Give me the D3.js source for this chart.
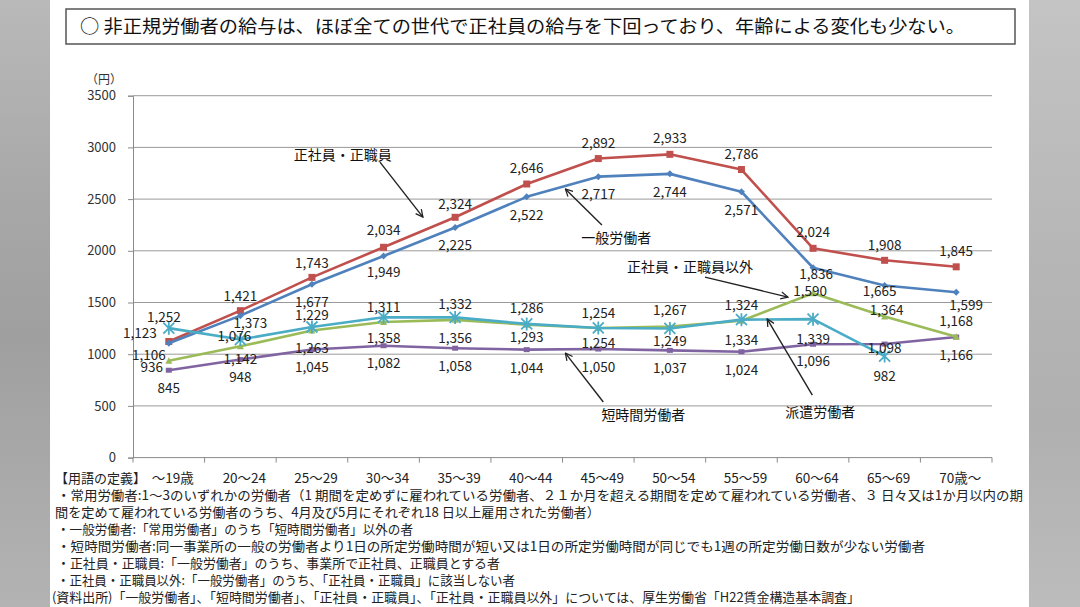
<!DOCTYPE html>
<html><head><meta charset="utf-8">
<script src="https://cdn.jsdelivr.net/npm/d3@7"></script>
<style>
html,body{margin:0;padding:0;background:#fff;}
svg{display:block;font-family:"Noto Sans CJK JP","Noto Sans",sans-serif;}
</style></head>
<body>
<svg id="chart" width="1080" height="607"></svg>
<script>
// ---------- data ----------
const categories = ["～19歳","20～24","25～29","30～34","35～39","40～44","45～49","50～54","55～59","60～64","65～69","70歳～"];
const yTicks = [0,500,1000,1500,2000,2500,3000,3500];
const seishain     = [1123,1421,1743,2034,2324,2646,2892,2933,2786,2024,1908,1845]; // 正社員・正職員
const ippan        = [1106,1373,1677,1949,2225,2522,2717,2744,2571,1836,1665,1599]; // 一般労働者
const seishainIgai = [936,1076,1229,1311,1332,1286,1254,1267,1324,1590,1364,1168];  // 正社員・正職員以外
const haken        = [1252,1142,1263,1358,1356,1293,1254,1249,1334,1339,982,null];  // 派遣労働者
const tanjikan     = [845,948,1045,1082,1058,1044,1050,1037,1024,1096,1098,1166];   // 短時間労働者

const titleText = "○  非正規労働者の給与は、ほぼ全ての世代で正社員の給与を下回っており、年齢による変化も少ない。";
const notes = [
  "・常用労働者:1～3のいずれかの労働者（1 期間を定めずに雇われている労働者、２１か月を超える期間を定めて雇われている労働者、３ 日々又は1か月以内の期",
  "間を定めて雇われている労働者のうち、4月及び5月にそれぞれ18 日以上雇用された労働者）",
  "・一般労働者:「常用労働者」のうち「短時間労働者」以外の者",
  "・短時間労働者:同一事業所の一般の労働者より1日の所定労働時間が短い又は1日の所定労働時間が同じでも1週の所定労働日数が少ない労働者",
  "・正社員・正職員:「一般労働者」のうち、事業所で正社員、正職員とする者",
  "・正社員・正職員以外:「一般労働者」のうち、「正社員・正職員」に該当しない者",
  "(資料出所)「一般労働者」、「短時間労働者」、「正社員・正職員」、「正社員・正職員以外」については、厚生労働省「H22賃金構造基本調査」"
];

// ---------- layout / style ----------
const W = 1080, H = 607;
const plot = {left:133, right:992, top:95.7, bottom:457.6};
const svg = d3.select("#chart");

// blurred-looking side panels
const defs = svg.append("defs");
const gl = defs.append("linearGradient").attr("id","gl").attr("x1",0).attr("y1",0).attr("x2",0).attr("y2",1);
[["0%","#b9b9b9"],["30%","#a9a9a9"],["55%","#9f9f9f"],["80%","#aaaaaa"],["100%","#b3b3b3"]].forEach(s=>gl.append("stop").attr("offset",s[0]).attr("stop-color",s[1]));
const gr = defs.append("linearGradient").attr("id","gr").attr("x1",0).attr("y1",0).attr("x2",0).attr("y2",1);
[["0%","#c4c4c4"],["45%","#b5b5b5"],["70%","#b0b0b0"],["100%","#bcbcbc"]].forEach(s=>gr.append("stop").attr("offset",s[0]).attr("stop-color",s[1]));
svg.append("rect").attr("x",0).attr("y",0).attr("width",50).attr("height",H).attr("fill","url(#gl)");
svg.append("rect").attr("x",1029).attr("y",0).attr("width",51).attr("height",H).attr("fill","url(#gr)");

// arrow marker
defs.append("marker").attr("id","arr").attr("viewBox","0 0 10 10").attr("refX",9).attr("refY",5)
  .attr("markerWidth",9).attr("markerHeight",9).attr("orient","auto").attr("markerUnits","userSpaceOnUse")
  .append("path").attr("d","M1,1 L9,5 L1,9").attr("fill","none").attr("stroke","#222").attr("stroke-width",1.4);

// title box
svg.append("rect").attr("x",66).attr("y",9).attr("width",949).attr("height",35)
  .attr("fill","#fff").attr("stroke","#555").attr("stroke-width",1.5);
svg.append("text").attr("x",80).attr("y",33).attr("font-size",18).attr("fill","#111")
  .attr("textLength",885).attr("lengthAdjust","spacingAndGlyphs").text(titleText);

// scales
const x = d3.scaleBand().domain(categories).range([plot.left, plot.right]);
const y = d3.scaleLinear().domain([0,3500]).range([plot.bottom, plot.top]);
const cx = i => x(categories[i]) + x.bandwidth()/2;
const fx = f => x(categories[0]) + x.bandwidth()*(f+0.5);

// gridlines
svg.append("g").selectAll("line").data(yTicks.filter(d=>d>0)).join("line")
  .attr("x1",plot.left).attr("x2",plot.right).attr("y1",d=>y(d)).attr("y2",d=>y(d))
  .attr("stroke","#9a9a9a").attr("stroke-width",1);

// y axis
const yAxis = svg.append("g").attr("transform",`translate(${plot.left},0)`)
  .call(d3.axisLeft(y).tickValues(yTicks).tickSize(5).tickPadding(12).tickFormat(d3.format("d")));
yAxis.select(".domain").attr("stroke","#8a8a8a");
yAxis.selectAll(".tick line").attr("stroke","#8a8a8a");
yAxis.selectAll("text").attr("font-size",13).attr("fill","#333").attr("font-family","'Noto Sans CJK JP',sans-serif");
svg.append("text").attr("x",104).attr("y",84).attr("text-anchor","middle").attr("font-size",12).attr("fill","#333").text("（円）");

// x axis (ticks at band boundaries)
svg.append("line").attr("x1",plot.left).attr("x2",plot.right).attr("y1",plot.bottom).attr("y2",plot.bottom).attr("stroke","#8a8a8a");
svg.append("g").selectAll("line").data(d3.range(categories.length+1)).join("line")
  .attr("x1",i=>plot.left + i*x.bandwidth()).attr("x2",i=>plot.left + i*x.bandwidth())
  .attr("y1",plot.bottom).attr("y2",plot.bottom+5).attr("stroke","#8a8a8a");
svg.append("g").selectAll("text").data(categories).join("text")
  .attr("x",(d,i)=>cx(i)+4).attr("y",plot.bottom+25).attr("text-anchor","middle")
  .attr("font-size",13.5).attr("fill","#222").text(d=>d);
svg.append("text").attr("x",55).attr("y",plot.bottom+25).attr("font-size",13).attr("fill","#222").text("【用語の定義】");

// notes
const noteX = [57,55,57,57,57,57,52];
const noteLen = [966,545,356,868,443,458,808];
const noteY0 = plot.bottom + 42.5, noteDy = 16.9;
svg.append("g").selectAll("text").data(notes).join("text")
  .attr("x",(d,i)=>noteX[i]).attr("y",(d,i)=>noteY0 + i*noteDy)
  .attr("font-size",13).attr("fill","#222")
  .attr("textLength",(d,i)=>noteLen[i]).attr("lengthAdjust","spacingAndGlyphs").text(d=>d);

// ---------- series ----------
const series = [
  {name:"正社員・正職員", values:seishain, color:"#c0504d", marker:"square",
   off:[[-29,-8],[0,-15],[0,-14],[0,-17],[0,-13],[0,-16],[0,-15],[0,-16],[0,-15],[0,-16],[0,-15],[0,-16]]},
  {name:"一般労働者", values:ippan, color:"#4f81bd", marker:"diamond",
   off:[[-20,12],[10,8],[0,18],[0,16],[0,18],[0,18],[0,17],[0,18],[0,18],[3,6],[-5,6],[10,13]]},
  {name:"短時間労働者", values:tanjikan, color:"#8064a2", marker:"dash",
   off:[[0,18],[0,18],[0,18],[0,17],[0,18],[0,18],[0,18],[0,18],[0,18],[0,17],[0,4],[0,18]]},
  {name:"正社員・正職員以外", values:seishainIgai, color:"#9bbb59", marker:"triangle",
   off:[[-17,6],[-6,-10],[0,-15],[0,-15],[0,-16],[0,-16],[0,-15],[0,-16],[0,-16],[-3,-2],[2,-6],[0,-16]]},
  {name:"派遣労働者", values:haken, color:"#4bacc6", marker:"star",
   off:[[-5,-11],[0,20],[0,21],[0,21],[0,21],[0,13],[0,15],[0,13],[0,20],[0,20],[0,20],[0,0]]}
];

const line = d3.line().defined(d=>d.v!=null).x(d=>cx(d.i)).y(d=>y(d.v));
series.forEach(s=>{
  const pts = s.values.map((v,i)=>({v,i}));
  svg.append("path").datum(pts).attr("d",line).attr("fill","none")
    .attr("stroke",s.color).attr("stroke-width",2.6).attr("stroke-linejoin","round");
  const g = svg.append("g");
  pts.filter(d=>d.v!=null).forEach(d=>{
    const px = cx(d.i), py = y(d.v);
    if(s.marker==="square"){
      g.append("rect").attr("x",px-3.5).attr("y",py-3.5).attr("width",7).attr("height",7).attr("fill",s.color);
    } else if(s.marker==="diamond"){
      g.append("path").attr("d",`M${px},${py-3.5}L${px+3.5},${py}L${px},${py+3.5}L${px-3.5},${py}Z`).attr("fill",s.color);
    } else if(s.marker==="triangle"){
      g.append("path").attr("d",`M${px},${py-3.5}L${px+3.5},${py+3}L${px-3.5},${py+3}Z`).attr("fill",s.color);
    } else if(s.marker==="dash"){
      g.append("rect").attr("x",px-3).attr("y",py-2.5).attr("width",6).attr("height",5).attr("fill",s.color);
    } else if(s.marker==="star"){
      const r=5.5;
      g.append("path").attr("d",`M${px-r},${py-r}L${px+r},${py+r}M${px-r},${py+r}L${px+r},${py-r}M${px},${py-r-1}L${px},${py+r+1}`)
        .attr("stroke",s.color).attr("stroke-width",1.8);
    }
  });
});

// data labels
const fmt = d3.format(",");
series.forEach(s=>{
  svg.append("g").selectAll("text").data(s.values.map((v,i)=>({v,i})).filter(d=>d.v!=null)).join("text")
    .attr("x",d=>cx(d.i)+s.off[d.i][0]).attr("y",d=>y(d.v)+s.off[d.i][1]).attr("dy","0.36em")
    .attr("text-anchor","middle").attr("font-size",13.5).attr("fill","#222").text(d=>fmt(d.v));
});

// callout annotations (positions in data units: fractional category index, value)
const callouts = [
  {text:"正社員・正職員",   at:[2.43,2926], from:[2.95,2858], to:[3.55,2326]},
  {text:"一般労働者",       at:[6.25,2124], from:[6.05,2250], to:[5.54,2598]},
  {text:"正社員・正職員以外", at:[7.28,1843], from:[7.49,1746], to:[8.65,1552]},
  {text:"短時間労働者",     at:[6.63,412],  from:[6.07,538],  to:[5.54,1011]},
  {text:"派遣労働者",       at:[9.10,441],  from:[8.99,605],  to:[8.36,1340]}
];
callouts.forEach(c=>{
  svg.append("line").attr("x1",fx(c.from[0])).attr("y1",y(c.from[1]))
    .attr("x2",fx(c.to[0])).attr("y2",y(c.to[1]))
    .attr("stroke","#222").attr("stroke-width",1.4).attr("marker-end","url(#arr)");
  svg.append("text").attr("x",fx(c.at[0])).attr("y",y(c.at[1])).attr("dy","0.36em")
    .attr("text-anchor","middle").attr("font-size",14).attr("fill","#111").text(c.text);
});
</script>
</body></html>
